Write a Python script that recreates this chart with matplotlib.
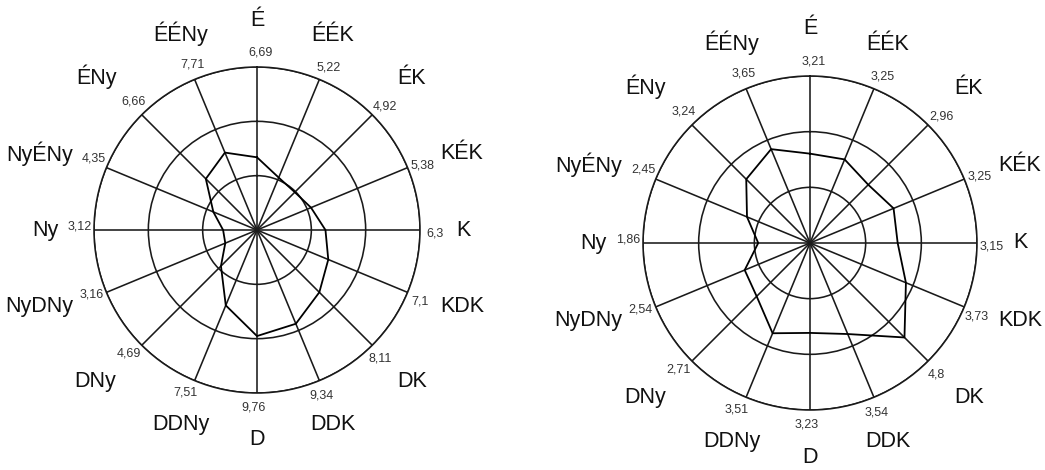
import numpy as np
import matplotlib.pyplot as plt

plt.rcParams['font.family'] = ['Liberation Sans', 'DejaVu Sans']

directions = ['É', 'ÉÉK', 'ÉK', 'KÉK', 'K', 'KDK', 'DK', 'DDK',
              'D', 'DDNy', 'DNy', 'NyDNy', 'Ny', 'NyÉNy', 'ÉNy', 'ÉÉNy']
left_vals = [6.69, 5.22, 4.92, 5.38, 6.3, 7.1, 8.11, 9.34,
             9.76, 7.51, 4.69, 3.16, 3.12, 4.35, 6.66, 7.71]
right_vals = [3.21, 3.25, 2.96, 3.25, 3.15, 3.73, 4.8, 3.54,
              3.23, 3.51, 2.71, 2.54, 1.86, 2.45, 3.24, 3.65]
left_rings = [5, 10, 15]
right_rings = [2, 4, 6]

W, H = 1045, 470
fig = plt.figure(figsize=(W / 100, H / 100), dpi=100)


def box(cx, cy, r):
    # pixel centre/radius -> figure fraction rect
    return [(cx - r) / W, (H - cy - r) / H, 2 * r / W, 2 * r / H]


def rose(ax, vals, rings):
    th = np.deg2rad(np.arange(16) * 22.5)
    rmax = rings[-1]
    ax.set_theta_zero_location('N')
    ax.set_theta_direction(-1)
    ax.set_ylim(0, rmax)
    ax.set_rgrids(rings, labels=[''] * len(rings))
    ax.set_thetagrids(np.arange(16) * 22.5, labels=[''] * 16)
    ax.grid(True, color='#1a1a1a', lw=1.15)
    ax.spines['polar'].set_color('#1a1a1a')
    ax.spines['polar'].set_linewidth(1.15)
    ax.tick_params(length=0)
    ax.plot(np.append(th, th[0]), np.append(vals, vals[0]), color='black', lw=1.3)

    for t, name, v in zip(th, directions, vals):
        s, c = np.sin(t), np.cos(t)
        ax.text(t + 0.02, rmax * 1.09, str(v).replace('.', ','), ha='center', va='center',
                fontsize=9, color='#333333')
        ha = 'left' if s > 0.5 else ('right' if s < -0.5 else 'center')
        va = 'bottom' if c > 0.5 else ('top' if c < -0.5 else 'center')
        ax.text(t, rmax * 1.22, name, ha=ha, va=va, fontsize=15.5, color='#111111')


ax1 = fig.add_axes(box(257, 230, 163), projection='polar')
rose(ax1, left_vals, left_rings)

ax2 = fig.add_axes(box(810, 243, 167), projection='polar')
rose(ax2, right_vals, right_rings)

fig.savefig('out.png', dpi=100)
